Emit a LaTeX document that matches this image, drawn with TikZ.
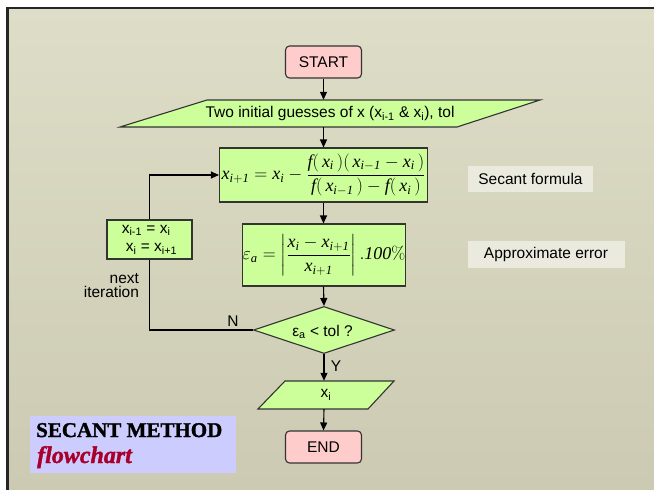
\RequirePackage{fix-cm}
\documentclass[tikz,border=0pt]{standalone}
\usepackage{amsmath}
\usepackage[no-math]{fontspec}
\setmainfont{Liberation Sans}
\newfontfamily\titlefont[BoldFeatures={FakeBold=1.5}, BoldItalicFeatures={FakeBold=1.5}]{Liberation Serif}
\newfontfamily\tmsfont[NFSSFamily=lsrx]{Liberation Serif}
\DeclareMathAlphabet{\mathtm}{TU}{lsrx}{m}{it}
\newcommand\mx[1]{\mathtm{#1}}
\usetikzlibrary{arrows.meta,shapes.geometric}
\definecolor{bgtop}{HTML}{DEDDC7}
\definecolor{bgbot}{HTML}{CCCAB2}
\definecolor{boxgreen}{HTML}{CCFF99}
\definecolor{termpink}{HTML}{FFCCCC}
\definecolor{notebg}{HTML}{EAEADF}
\definecolor{titlebg}{HTML}{CCCCFF}
\definecolor{titlered}{HTML}{A8002A}
\definecolor{edgecol}{HTML}{333333}
\begin{document}
\begin{tikzpicture}[x=1pt,y=-1pt,
  every node/.style={font=\fontsize{15.5}{18}\selectfont, text=black},
  greenbox/.style={draw=edgecol, line width=1.1pt, fill=boxgreen, inner sep=0pt},
  termbox/.style={draw=edgecol, line width=1.1pt, fill=termpink, rounded corners=4pt, inner sep=0pt},
  iofill/.style={draw=edgecol, line width=1.1pt, fill=boxgreen},
  arr/.style={-{Triangle[length=8pt,width=7pt]}, line width=1.1pt},
  plain/.style={line width=1.1pt},
  notebox/.style={fill=notebg, inner sep=0pt},
  mathfont/.style={font=\fontsize{18}{21}\selectfont}
]
\useasboundingbox (0,0) rectangle (654,490);
% slide background
\fill[white] (0,0) rectangle (654,490);
\shade[top color=bgtop, bottom color=bgbot] (7,8) rectangle (654,490);
\draw[line width=2.2pt, black!85] (6,8) -- (654,8);
\draw[line width=3pt, black!85] (7.5,7) -- (7.5,490);

% terminals
\node[termbox, minimum width=76pt, minimum height=32pt] (start) at (323.5,62) {START};
\node[termbox, minimum width=76pt, minimum height=32pt] (end) at (323.5,447) {END};

% input parallelogram
\filldraw[iofill] (207,100) -- (540,100) -- (457,127) -- (120,127) -- cycle;
\node[minimum width=250pt, minimum height=27pt, inner sep=0pt] (inp) at (330,113.5)
  {Two initial guesses of x (x\textsubscript{i-1} \& x\textsubscript{i}), tol};

% secant formula
\node[greenbox, minimum width=208pt, minimum height=54pt, mathfont] (formula) at (323.5,175)
  {$\mx{x}_{\mx{i}+\mx{1}} = \mx{x}_{\mx{i}} - \dfrac{\mx{f}(\,\mx{x}_{\mx{i}}\,)(\,\mx{x}_{\mx{i}-\mx{1}} - \mx{x}_{\mx{i}}\,)}{\mx{f}(\,\mx{x}_{\mx{i}-\mx{1}}\,) - \mx{f}(\,\mx{x}_{\mx{i}}\,)}$};

% approximate error
\node[greenbox, minimum width=163pt, minimum height=62pt, mathfont] (err) at (324,255)
  {$\varepsilon_{\mx{a}} = \left|\dfrac{\mx{x}_{\mx{i}} - \mx{x}_{\mx{i}+\mx{1}}}{\mx{x}_{\mx{i}+\mx{1}}}\right| \mx{.100\%}$};

% decision
\node[greenbox, diamond, aspect=3, minimum width=141pt, minimum height=47pt] (dec) at (324,330) {};
\node[anchor=base] (dect) at (322.5,336) {ε\textsubscript{a} < tol ?};

% output parallelogram
\filldraw[iofill] (285,381) -- (394,381) -- (368,409) -- (258,409) -- cycle;
\node[minimum width=80pt, minimum height=28pt, inner sep=0pt] (out) at (326,395) {x\textsubscript{i}};

% update box
\node[greenbox, minimum width=85pt, minimum height=39pt, align=left,
      font=\fontsize{15.5}{18.5}\selectfont] (upd) at (149.5,239.5)
  {x\textsubscript{i-1} = x\textsubscript{i}\\\hspace*{4pt}x\textsubscript{i} = x\textsubscript{i+1}};

% side notes
\node[notebox, minimum width=125pt, minimum height=26pt] (note1) at (530.5,179) {Secant formula};
\node[notebox, minimum width=157pt, minimum height=27pt] (note2) at (546,254.5) {Approximate error};

% connectors
\draw[arr] (start.south) -- (start.south |- inp.north);
\draw[arr] (formula.north |- inp.south) -- (formula.north);
\draw[arr] (formula.south) -- (formula.south |- err.north);
\draw[arr] (formula.south |- err.south) -- (dec.north);
\draw[arr] (dec.south) -- (dec.south |- out.north);
\draw[arr] (dec.south |- out.south) -- (end.north);
\draw[plain] (dec.west) -| (upd.south);
\draw[arr] (upd.north) |- (formula.west);

% labels
\node[anchor=base] (nlab) at (233,326) {N};
\node[anchor=base] (ylab) at (336,371.5) {Y};
\node[anchor=base east, align=right, font=\fontsize{15.5}{14.3}\selectfont] (nextit) at (142.5,297.7) {next\\iteration};

% title box
\fill[titlebg] (30,416) rectangle (236,473);
\node[anchor=base west, inner sep=0pt, font=\titlefont\bfseries\fontsize{21}{22}\selectfont] (t1) at (36,437) {SECANT METHOD};
\node[anchor=base west, inner sep=0pt, text=titlered, font=\titlefont\bfseries\itshape\fontsize{24}{26}\selectfont] (t2) at (37,463) {flowchart};
\end{tikzpicture}
\end{document}
